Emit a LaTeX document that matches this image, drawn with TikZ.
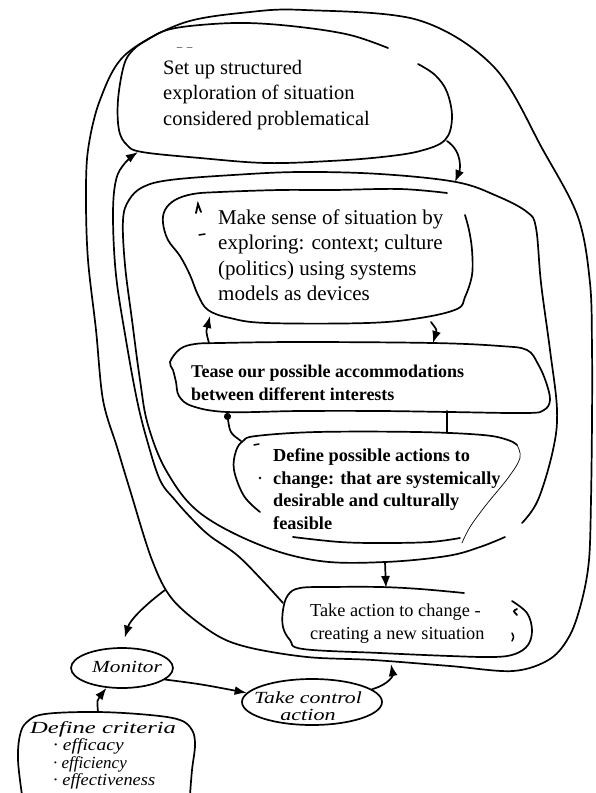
\documentclass[tikz,border=0pt]{standalone}
\usepackage{fontspec}
\setmainfont{Liberation Serif}
\usetikzlibrary{arrows.meta,shapes.geometric}
\tikzset{
  ink/.style={line width=1.7pt, line cap=round, line join=round},
  pencil/.style={line width=0.7pt, line cap=round},
  arr/.style={ink, -{Latex[length=12pt,width=9pt]}},
  dotarr/.style={ink, -{Circle[length=7pt]}},
  printed/.style={inner sep=0pt, align=left, anchor=west},
  hand/.style={inner sep=0pt, font=\itshape\fontsize{17}{17.5}\selectfont},
  blob/.style={ellipse, draw, ink, inner sep=0pt},
  speck/.style={line width=1.5pt, line cap=round}
}
\begin{document}
\begin{tikzpicture}[x=1pt,y=-1pt]
\useasboundingbox (0,0) rectangle (596,793);
\fill[white] (0,0) rectangle (596,793);

% outer loop
\draw[ink] plot[smooth cycle, tension=0.55] coordinates {(183,23) (250,12) (304,10) (418,20) (494,67) (543,150) (578,217) (590,283) (592,350) (592,420) (591,500) (589,560) (582,600) (570,635) (550,659) (513,671) (450,666) (373,660) (307,657) (247,647) (213,633) (173,600) (152,560) (130,490) (117,447) (103,400) (96,330) (88,260) (86,200) (88,150) (100,100) (125,55)};

% Set up box
\draw[ink] plot[smooth, tension=0.6] coordinates {(388,48) (350,35) (300,27) (247,23) (200,25) (167,30) (147,40) (133,50) (124,65) (118,100) (119,130) (127,145) (142,152) (200,158) (266,163) (330,161) (382,157) (420,151) (445,140) (452,118) (447,92) (435,75) (418,64)};
\node[printed, font=\fontsize{20.5}{25.5}\selectfont] (s1) at (163,95) {Set up structured\\exploration of situation\\considered problematical};
\draw[speck, line width=1pt, gray] (177,47)--(182,47) (187,47)--(192,47);

% second loop
\draw[ink] plot[smooth, tension=0.6] coordinates {(505,537) (480,547) (447,556) (385,562) (320,561) (260,545) (200,513) (167,472) (148,425) (140,380) (132,320) (125,265) (123,220) (129,200) (143,187) (170,180) (233,175) (300,172) (380,174) (456,182) (497,196) (527,212) (536,228) (541,283) (550,350) (557,410) (553,450) (538,500) (522,523)};

% Make sense box
\draw[ink] plot[smooth, tension=0.6] coordinates {(447,193) (400,189) (333,190) (280,190) (220,192) (193,194) (175,200) (165,210) (163,223) (168,240) (180,256) (190,275) (198,295) (208,310) (230,318) (267,323) (367,323) (420,318) (457,309) (465,297) (472,275) (472,250) (469,230) (465,215)};
\node[printed, font=\fontsize{21}{25.5}\selectfont] (m) at (218,255) {Make sense of situation by\\exploring: context; culture\\(politics) using systems\\models as devices};
\draw[speck, line width=1.8pt] (196,213)--(198,204)--(201,212);
\draw[speck] (199,235)--(205,234);

% Tease box
\draw[ink] plot[smooth cycle, tension=0.6] coordinates {(170,362) (180,349) (195,344) (220,343) (300,342) (433,343) (500,346) (527,350) (538,364) (546,382) (550,400) (544,410) (527,413) (450,412) (380,411) (300,411) (227,412) (192,406) (179,396) (176,382) (173,370)};
\node[printed, font=\bfseries\fontsize{18}{22.5}\selectfont] (t) at (191,383) {Tease our possible accommodations\\between different interests};

% Define possible actions box
\draw[ink] plot[smooth, tension=0.6] coordinates {(260,512) (244,496) (234,470) (236,451) (243,441) (256,436) (317,432) (417,432) (483,435) (508,440) (517,445)};
\draw[pencil] plot[smooth, tension=0.6] coordinates {(517,445) (520,458) (508,478) (486,505) (470,527) (462,543)};
\draw[ink] plot[smooth, tension=0.6] coordinates {(293,537) (340,542) (383,543) (430,542) (460,538)};
\node[printed, font=\bfseries\fontsize{18.3}{22.5}\selectfont] (d) at (273,489) {Define possible actions to\\change: that are systemically\\desirable and culturally\\feasible};
\draw[speck] (254,445)--(259,444);
\fill (260,478) circle (1.4);

% Take action box
\draw[ink] plot[smooth, tension=0.6] coordinates {(464,593) (420,589) (380,587) (330,587) (300,588) (288,595) (283,610) (283,627) (290,640) (303,649) (380,653) (450,656) (494,657) (515,654) (528,645) (532,630) (527,613) (512,601)};
\node[printed, font=\fontsize{18.3}{23}\selectfont] (a) at (310,624) {Take action to change -\\creating a new situation};
\draw[speck, line width=1.8pt] (517,609) .. controls (513,611) .. (517,615);
\draw[speck] (512,633) .. controls (514,637) .. (512,641);

% Monitor, take control, define criteria
\node[blob, minimum width=102pt, minimum height=40pt] (mon) at (122,668) {};
\node[hand] (montext) at (127,667) {\scalebox{1.25}[1]{Monitor}};
\node[blob, minimum width=140pt, minimum height=46pt] (tc) at (312,702) {};
\node[hand, align=center] (tctext) at (308,706) {\scalebox{1.28}[1]{Take control}\\\scalebox{1.3}[1]{action}};
\draw[ink] plot[smooth, tension=0.6] coordinates {(22,795) (18,760) (20,735) (27,722) (45,714) (97,712) (150,715) (180,720) (192,730) (195,745) (192,770) (190,795)};
\node[hand, anchor=north west, align=left] (dc) at (30,721) {\scalebox{1.45}[1]{Define criteria}\\\hspace*{23pt}\scalebox{1.15}[1]{· efficacy}\\\hspace*{23pt}\scalebox{1.0}[1]{· efficiency}\\\hspace*{23pt}\scalebox{1.08}[1]{· effectiveness}};

% connector coordinates
\coordinate (s1a) at (447,141);
\coordinate (l2a) at (455,182);
\coordinate (ax) at (283,603);
\coordinate (s1x) at (138,152);
\coordinate (l2b) at (385,562);
\coordinate (atop) at (386,588);
\coordinate (mb2) at (431,322);
\coordinate (tt) at (433,343);
\coordinate (tt2) at (209,343);
\coordinate (mb1) at (210,316);
\coordinate (tb) at (447,411);
\coordinate (dt) at (447,433);
\coordinate (dtl) at (241,441);
\coordinate (tbl) at (227,413);
\coordinate (l1m) at (165,590);
\coordinate (l1c) at (391,664);
\coordinate (dctop) at (98,712);

% connectors
\draw[arr] (s1a) .. controls (463,152) and (460,170) .. (l2a);
\draw[arr] plot[smooth, tension=0.6] coordinates {(ax) (262,580) (237,555) (210,536) (193,520) (175,500) (160,480) (147,440) (137,400) (126,340) (116,275) (113,215) (116,180) (125,163) (s1x)};
\draw[arr] (l2b) -- (atop);
\draw[arr] (mb2) .. controls (437,330) .. (tt);
\draw[arr] (tt2) .. controls (206,332) .. (mb1);
\draw[ink] (tb) -- (dt);
\draw[dotarr] (dtl) .. controls (230,433) .. (tbl);
\draw[arr, shorten >=10pt] (l1m) .. controls (145,605) and (130,620) .. (mon.north);
\draw[arr] (mon.-15) .. controls (200,684) .. (tc.172);
\draw[arr] (tc.12) .. controls (390,684) and (393,675) .. (l1c);
\draw[arr] (dctop) .. controls (97,700) .. (mon.232);
\end{tikzpicture}
\end{document}
